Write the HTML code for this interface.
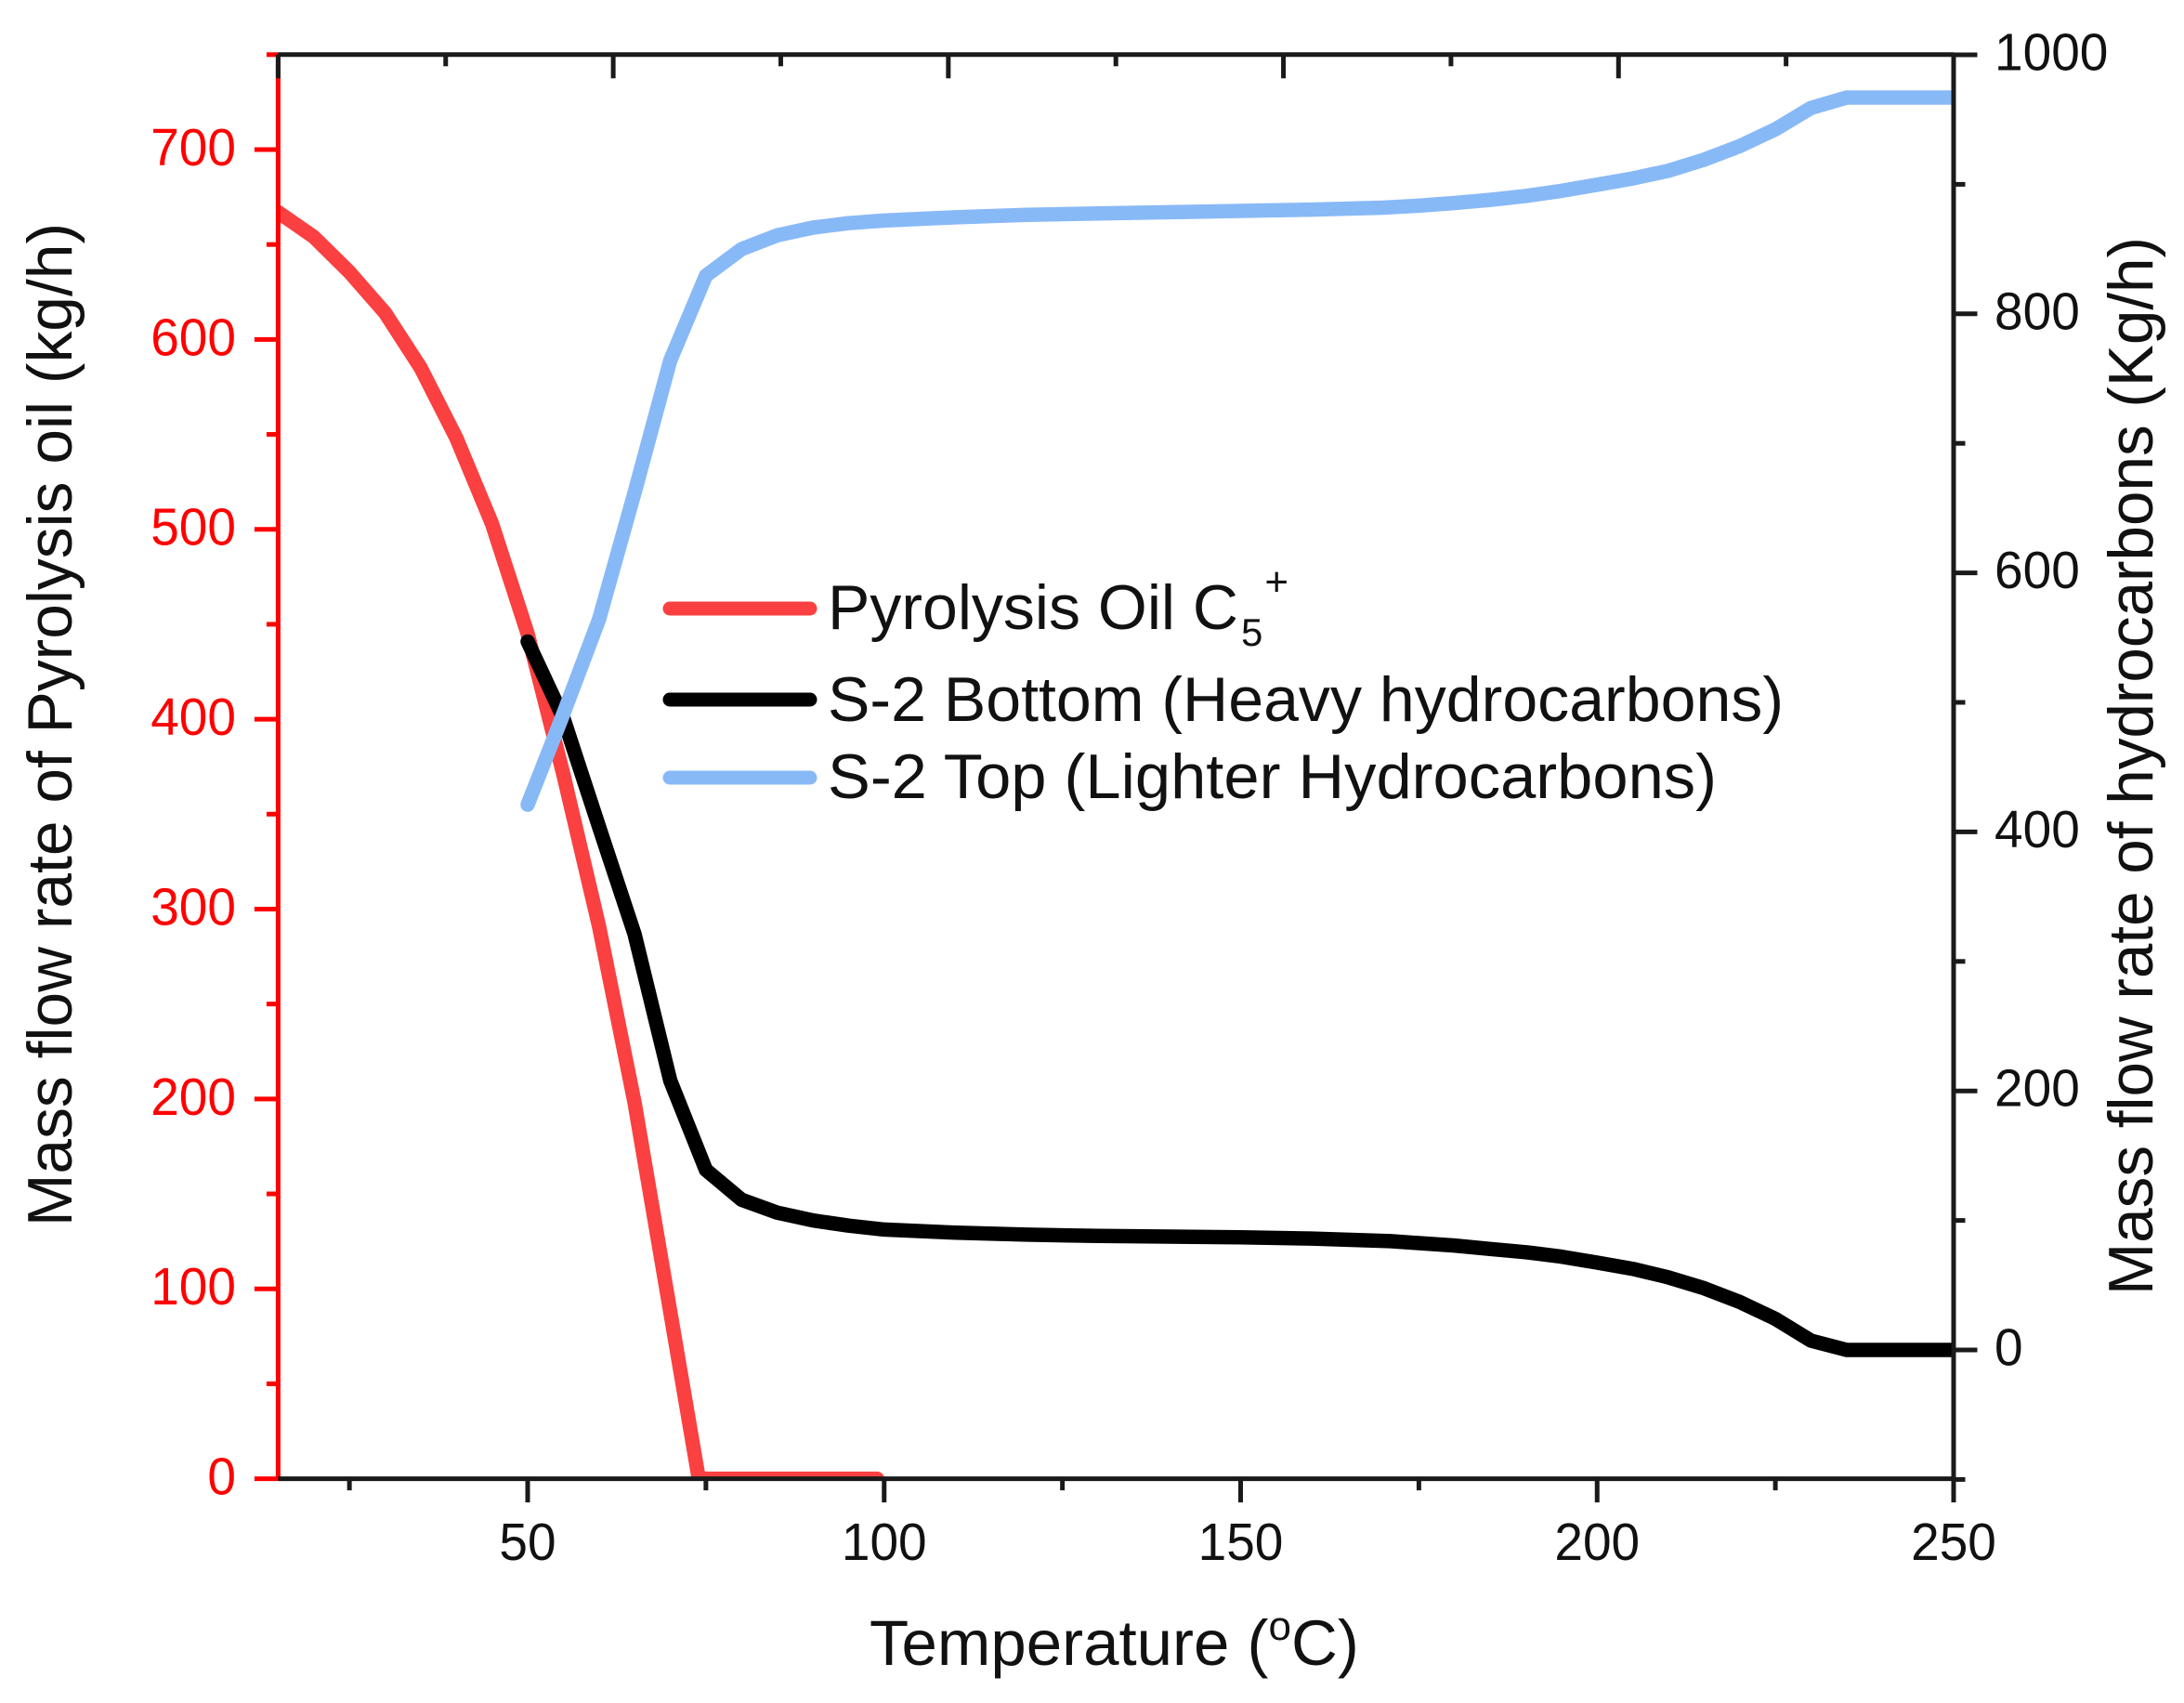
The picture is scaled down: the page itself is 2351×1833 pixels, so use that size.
<!DOCTYPE html>
<html lang="en">
<head>
<meta charset="utf-8">
<title>Mass flow rate vs temperature</title>
<style>
html,body{margin:0;padding:0;background:#fff;width:2351px;height:1833px;overflow:hidden}
svg{display:block}
text{font-family:"Liberation Sans",Arial,sans-serif;fill:#111}
</style>
</head>
<body>
<svg id="chart" xmlns="http://www.w3.org/2000/svg" width="2351" height="1833" viewBox="0 0 2351 1833">
  <defs>
    <clipPath id="plot-clip"><rect x="299" y="58" width="1804" height="1534"></rect></clipPath>
  </defs>
  <rect x="0" y="0" width="2351" height="1833" fill="#fff"></rect>
  <g id="series-layer" clip-path="url(#plot-clip)"></g>
  <g id="axis-layer"></g>

  <text transform="translate(77,1320) rotate(-90)" font-size="68" textLength="1080" lengthAdjust="spacingAndGlyphs">Mass flow rate of Pyrolysis oil (kg/h)</text>
  <text transform="translate(2317,1394) rotate(-90)" font-size="68" textLength="1139" lengthAdjust="spacingAndGlyphs">Mass flow rate of hydrocarbons (Kg/h)</text>
  <text x="936" y="1792" font-size="69">Temperature (<tspan font-size="44" dy="-27">o</tspan><tspan dy="27">C)</tspan></text>

  <g>
    <line x1="721" x2="872" y1="655" y2="655" stroke="#FA4040" stroke-width="15" stroke-linecap="round"></line>
    <text x="891" y="677" font-size="68">Pyrolysis Oil C<tspan font-size="42" dy="18" dx="3">5</tspan><tspan font-size="44" dy="-54" dx="2">+</tspan></text>
    <line x1="721" x2="872" y1="753" y2="753" stroke="#000" stroke-width="15" stroke-linecap="round"></line>
    <text x="891" y="776" font-size="68" textLength="1029" lengthAdjust="spacingAndGlyphs">S-2 Bottom (Heavy hydrocarbons)</text>
    <line x1="721" x2="872" y1="837" y2="837" stroke="#88B9F7" stroke-width="15" stroke-linecap="round"></line>
    <text x="891" y="859" font-size="68" textLength="957" lengthAdjust="spacingAndGlyphs">S-2 Top (Lighter Hydrocarbons)</text>
  </g>
</svg>

<script>
// ---- data ----
const pyrolysisTemps = [15,20,25,30,35,40,45,50,55,60,65,70,74,80,90,99];
const pyrolysisFlow  = [667,654,635.5,614,585,548,503,445,371,291,198,88,0,0,0,0];

const bottomTemps = [50,55,60,65,70,75,80,85,90,95,100,110,120,130,140,150,160,171,175,180,185,190,195,200,205,210,215,220,225,230,235,250];
const bottomFlow  = [547,488,404,321,208,139,116,106,100,96,93,90.5,89,88,87.5,87,86,84,82.5,80.6,78,75.5,72,67.4,62.6,56,47.6,37,24,7.2,0,0];

const topTemps = [50,55,60,65,70,75,80,85,90,95,100,110,120,130,140,150,160,170,175,180,185,190,195,200,205,210,215,220,225,230,235,250];
const topFlow  = [421,491,564,662,764,829.5,850,860.6,866.6,870,872,874.5,876.5,877.5,878.5,879.5,880.5,882,883.5,885.6,888,891,895,899.7,904.5,910.5,919,929.5,942.5,959,967,967];

const bottomMajorTicks = [50,100,150,200,250];
const bottomMinorTicks = [25,75,125,175,225];
const topMajorTicks = [15,62,109,156,203,250];
const topMinorTicks = [38.5,85.5,132.5,179.5,226.5];
const leftMajorTicks = [0,100,200,300,400,500,600,700];
const leftMinorTicks = [50,150,250,350,450,550,650,750];
const rightMajorTicks = [0,200,400,600,800,1000];
const rightMinorTicks = [-100,100,300,500,700,900];

// ---- axis functions ----
const scale = (d0, d1, r0, r1) => v => r0 + (v - d0) * (r1 - r0) / (d1 - d0);
const xAxis = scale(15, 250, 299.4, 2103);
const yLeft = scale(0, 750, 1591.6, 58.8);
const yRight = scale(-100, 1000, 1592.4, 59);

const NS = 'http://www.w3.org/2000/svg';
function make(tag, attrs, parent) {
  const n = document.createElementNS(NS, tag);
  for (const k in attrs) n.setAttribute(k, attrs[k]);
  parent.appendChild(n);
  return n;
}
const labelWidth = v => String(v).length * 30.6;

const seriesLayer = document.getElementById('series-layer');
const axisLayer = document.getElementById('axis-layer');

function polyPoints(xs, ys, yFn) {
  return xs.map((t, i) => xAxis(t).toFixed(1) + ',' + yFn(ys[i]).toFixed(1)).join(' ');
}
const seriesStyle = {fill: 'none', 'stroke-width': 15.5, 'stroke-linejoin': 'round', 'stroke-linecap': 'round'};

const redLine = make('polyline', Object.assign({points: polyPoints(pyrolysisTemps, pyrolysisFlow, yLeft), stroke: '#FA4040'}, seriesStyle), seriesLayer);



const blackLine = make('polyline', Object.assign({points: polyPoints(bottomTemps, bottomFlow, yRight), stroke: '#000'}, seriesStyle), seriesLayer);



const blueLine = make('polyline', Object.assign({points: polyPoints(topTemps, topFlow, yRight), stroke: '#88B9F7'}, seriesStyle), seriesLayer);



const BLACK = '#1a1a1a';
const RED = '#ff0000';
const MAJOR = 25.5;
const MINOR = 12.5;
const AXIS_W = 5;

// left axis (red)
const leftSpine = make('line', {x1: xAxis(15), x2: xAxis(15), y1: yLeft(750) - 2, y2: yLeft(0) + 2, stroke: RED, 'stroke-width': AXIS_W}, axisLayer);


leftMinorTicks.forEach(v => {
  const t = make('line', {x1: xAxis(15) - MINOR, x2: xAxis(15), y1: yLeft(v), y2: yLeft(v), stroke: RED, 'stroke-width': AXIS_W}, axisLayer);
  
  
});
leftMajorTicks.forEach(v => {
  const t = make('line', {x1: xAxis(15) - MAJOR, x2: xAxis(15), y1: yLeft(v), y2: yLeft(v), stroke: RED, 'stroke-width': AXIS_W}, axisLayer);
  
  
  const l = make('text', {x: 254, y: yLeft(v) + 17, 'font-size': 57, 'text-anchor': 'end', textLength: labelWidth(v), lengthAdjust: 'spacingAndGlyphs', style: 'fill:#ff0000'}, axisLayer);
  l.textContent = String(v);
  
  
});

// right axis (black)
const rightSpine = make('line', {x1: xAxis(250), x2: xAxis(250), y1: yRight(1000), y2: yRight(-100), stroke: BLACK, 'stroke-width': AXIS_W}, axisLayer);


rightMinorTicks.forEach(v => {
  const t = make('line', {x1: xAxis(250), x2: xAxis(250) + MINOR, y1: yRight(v), y2: yRight(v), stroke: BLACK, 'stroke-width': AXIS_W}, axisLayer);
  
  
});
rightMajorTicks.forEach(v => {
  const t = make('line', {x1: xAxis(250), x2: xAxis(250) + MAJOR, y1: yRight(v), y2: yRight(v), stroke: BLACK, 'stroke-width': AXIS_W}, axisLayer);
  
  
  const l = make('text', {x: 2147, y: yRight(v) + 16.5, 'font-size': 57, textLength: labelWidth(v), lengthAdjust: 'spacingAndGlyphs'}, axisLayer);
  l.textContent = String(v);
  
  
});

// top axis
const topSpine = make('line', {x1: xAxis(15), x2: xAxis(250), y1: yLeft(750), y2: yLeft(750), stroke: BLACK, 'stroke-width': AXIS_W}, axisLayer);


topMajorTicks.forEach(v => {
  const t = make('line', {x1: xAxis(v), x2: xAxis(v), y1: yLeft(750), y2: yLeft(750) + MAJOR, stroke: BLACK, 'stroke-width': AXIS_W}, axisLayer);
  
  
});
topMinorTicks.forEach(v => {
  const t = make('line', {x1: xAxis(v), x2: xAxis(v), y1: yLeft(750), y2: yLeft(750) + MINOR, stroke: BLACK, 'stroke-width': AXIS_W}, axisLayer);
  
  
});

// bottom axis
const bottomSpine = make('line', {x1: xAxis(15), x2: xAxis(250), y1: yLeft(0), y2: yLeft(0), stroke: BLACK, 'stroke-width': AXIS_W}, axisLayer);


bottomMinorTicks.forEach(v => {
  const t = make('line', {x1: xAxis(v), x2: xAxis(v), y1: yLeft(0), y2: yLeft(0) + MINOR, stroke: BLACK, 'stroke-width': AXIS_W}, axisLayer);
  
  
});
bottomMajorTicks.forEach(v => {
  const t = make('line', {x1: xAxis(v), x2: xAxis(v), y1: yLeft(0), y2: yLeft(0) + MAJOR, stroke: BLACK, 'stroke-width': AXIS_W}, axisLayer);
  
  
  const l = make('text', {x: xAxis(v), y: 1679, 'font-size': 57, 'text-anchor': 'middle', textLength: labelWidth(v), lengthAdjust: 'spacingAndGlyphs'}, axisLayer);
  l.textContent = String(v);
  
  
});
</script>
</body>
</html>
